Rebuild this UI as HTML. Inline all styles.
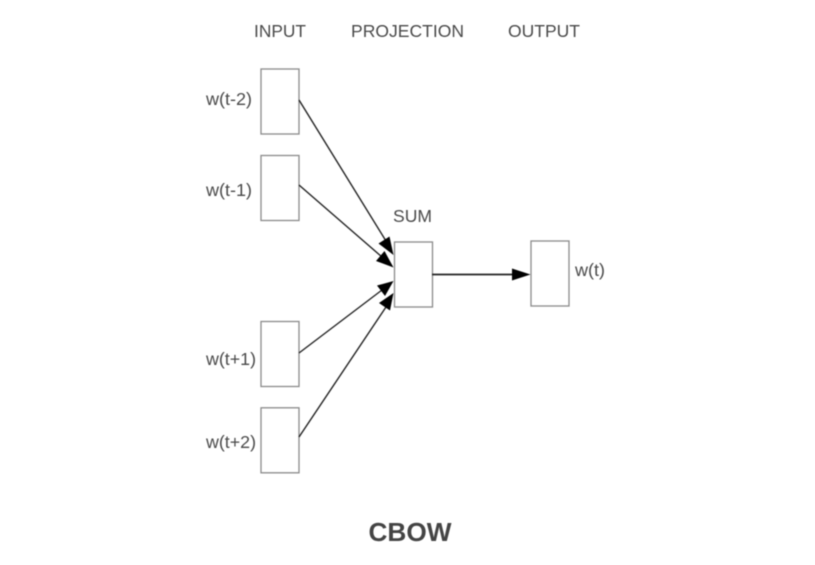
<!DOCTYPE html>
<html>
<head>
<meta charset="utf-8">
<style>
html,body{margin:0;padding:0;background:#fff;width:815px;height:565px;overflow:hidden}
svg{display:block;filter:blur(0.45px)}
text{font-family:"Liberation Sans",sans-serif;font-size:17.2px;fill:#4a4a4a}
rect{fill:#fff;stroke:#8a8a8a;stroke-width:1.3}
line{stroke:#222;stroke-width:1.4}
polygon{fill:#000}
</style>
</head>
<body>
<svg width="815" height="565" viewBox="0 0 815 565" xmlns="http://www.w3.org/2000/svg">
<text x="254" y="37" textLength="52" lengthAdjust="spacingAndGlyphs">INPUT</text>
<text x="351" y="37" textLength="113" lengthAdjust="spacingAndGlyphs">PROJECTION</text>
<text x="508" y="37" textLength="72" lengthAdjust="spacingAndGlyphs">OUTPUT</text>
<text x="393" y="222" textLength="39" lengthAdjust="spacingAndGlyphs">SUM</text>
<text x="206" y="105" textLength="46" lengthAdjust="spacingAndGlyphs">w(t-2)</text>
<text x="206" y="196" textLength="46" lengthAdjust="spacingAndGlyphs">w(t-1)</text>
<text x="206" y="365" textLength="50" lengthAdjust="spacingAndGlyphs">w(t+1)</text>
<text x="206" y="448" textLength="50" lengthAdjust="spacingAndGlyphs">w(t+2)</text>
<text x="575" y="276" textLength="30" lengthAdjust="spacingAndGlyphs">w(t)</text>
<text x="368.5" y="541" style="font-size:26px;font-weight:bold;fill:#444" textLength="83" lengthAdjust="spacingAndGlyphs">CBOW</text>

<rect x="261" y="69" width="38" height="65"/>
<rect x="261" y="155.500" width="38" height="65"/>
<rect x="261" y="321.500" width="38" height="65"/>
<rect x="261" y="407.800" width="38" height="65"/>
<rect x="394.500" y="242" width="38" height="65"/>
<rect x="531" y="241" width="38" height="65"/>

<line x1="299" y1="100" x2="386" y2="241"/>
<polygon points="393.500,255 378.500,243.500 389.500,236.500"/>
<line x1="299" y1="185" x2="382" y2="257"/>
<polygon points="393.500,267.500 376,261 384.500,251"/>
<line x1="299" y1="353" x2="382" y2="290"/>
<polygon points="393.500,281 385,296 377,285.500"/>
<line x1="299" y1="437" x2="386" y2="307"/>
<polygon points="393.500,293 390,310.500 379,303"/>
<line x1="432" y1="274.500" x2="515" y2="274.500" style="stroke-width:1.8"/>
<polygon points="530.500,274.500 512,268.500 512,280.500"/>
</svg>
</body>
</html>
